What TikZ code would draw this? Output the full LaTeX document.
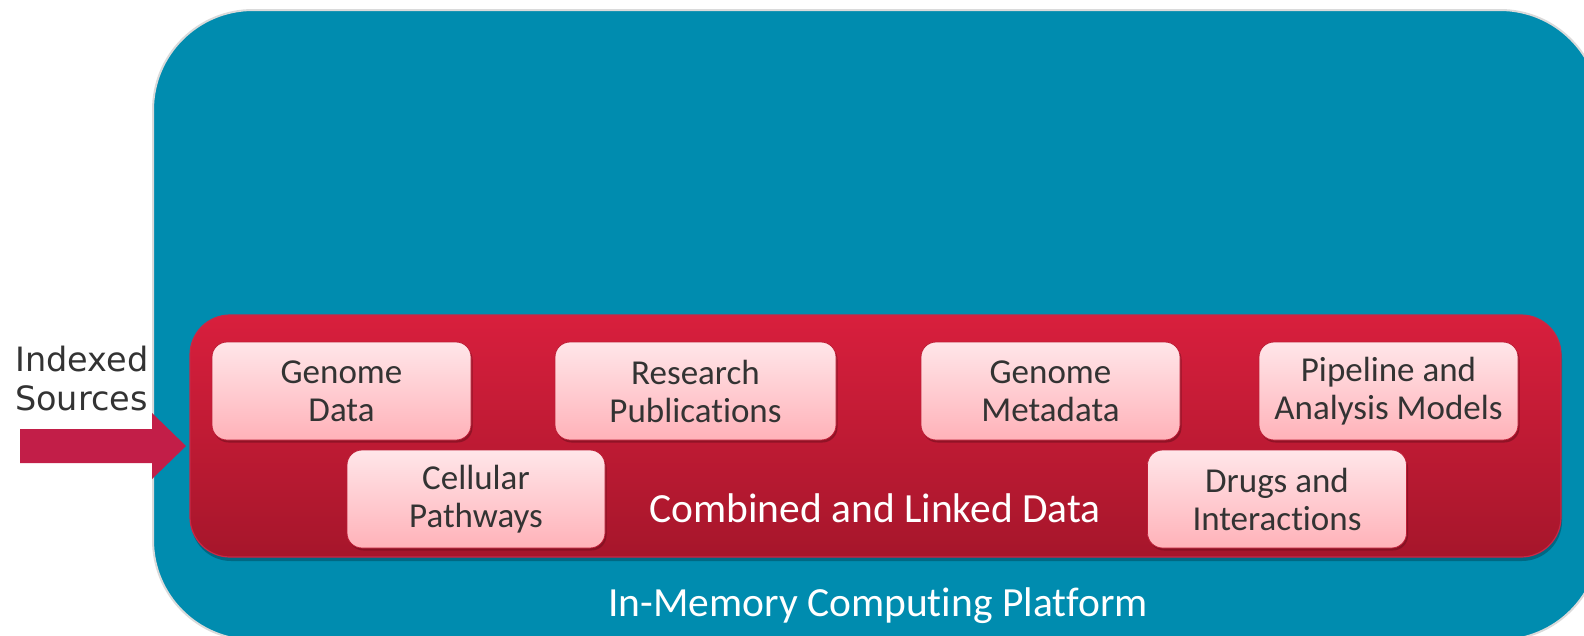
\documentclass[tikz,border=0pt]{standalone}
\usepackage{fontspec}
\setmainfont{Carlito}[Ligatures=NoCommon]
\newfontfamily\dejavu{DejaVu Sans}
\usetikzlibrary{shadows}
\definecolor{teal0}{RGB}{0,140,175}
\definecolor{platborder}{RGB}{218,218,218}
\definecolor{redtop}{RGB}{216,31,61}
\definecolor{redbot}{RGB}{166,22,43}
\definecolor{redline}{RGB}{200,40,70}
\definecolor{pinktop}{RGB}{255,230,233}
\definecolor{pinkbot}{RGB}{255,178,185}
\definecolor{pinkline}{RGB}{190,30,55}
\definecolor{arrowcol}{RGB}{194,30,72}
\definecolor{txtgray}{RGB}{51,51,51}
\tikzset{
  platbox/.style={draw=platborder, line width=2pt, fill=teal0, rounded corners=100pt},
  redbox/.style={draw=redline, line width=1.2pt, rounded corners=40pt, top color=redtop, bottom color=redbot,
    drop shadow={shadow xshift=1pt, shadow yshift=-4pt, fill=black, opacity=0.25}},
  pinkbox/.style={draw=pinkline, line width=0.8pt, rounded corners=15pt, top color=pinktop, bottom color=pinkbot,
    minimum height=98pt, inner sep=0pt, align=center, text=txtgray,
    font=\fontsize{35}{38}\selectfont,
    drop shadow={shadow xshift=1.5pt, shadow yshift=-2.5pt, fill=redbot!70!black, opacity=0.6}},
  bigwhite/.style={text=white, font=\fontsize{41.5}{48}\selectfont, inner sep=0pt, anchor=base},
}
\begin{document}
\begin{tikzpicture}[x=1pt,y=-1pt]
\useasboundingbox (0,0) rectangle (1584,635);
\begin{scope}
  \clip (0,0) rectangle (1584,635);
  \draw[platbox] (153,10) rectangle (1600,640);
\end{scope}
\node[bigwhite] (plat) at (878,616) {In-Memory Computing Platform};
\node[redbox, minimum width=1371pt, minimum height=242pt, inner sep=0pt] (red) at (875.5,436) {};
\node[bigwhite] (comb) at (875,522) {Combined and Linked Data};
\node[pinkbox, minimum width=259pt] (gd) at (341.5,391) {Genome\\Data};
\node[pinkbox, minimum width=281pt] (rp) at (695.5,391) {Research\\Publications};
\node[pinkbox, minimum width=259pt] (gm) at (1050.5,391) {Genome\\Metadata};
\node[pinkbox, minimum width=259pt] (pa) at (1388.5,391) {Pipeline and\\Analysis Models};
\node[pinkbox, minimum width=258pt] (cp) at (476,499) {Cellular\\Pathways};
\node[pinkbox, minimum width=259pt] (di) at (1277,499) {Drugs and\\Interactions};
\node[anchor=base west, inner sep=0pt, align=left, text=txtgray, font=\dejavu\fontsize{33.5}{39}\selectfont] (idx) at (15,410) {Indexed\\Sources};
\coordinate (src) at (20,446);
\coordinate (tip) at (186,446);
\fill[arrowcol] (src) ++(0,-17) -- ++(132,0) -- ++(0,-16) -- (tip) -- ++(-34,33) -- ++(0,-16) -- ++(-132,0) -- cycle;
\end{tikzpicture}
\end{document}
